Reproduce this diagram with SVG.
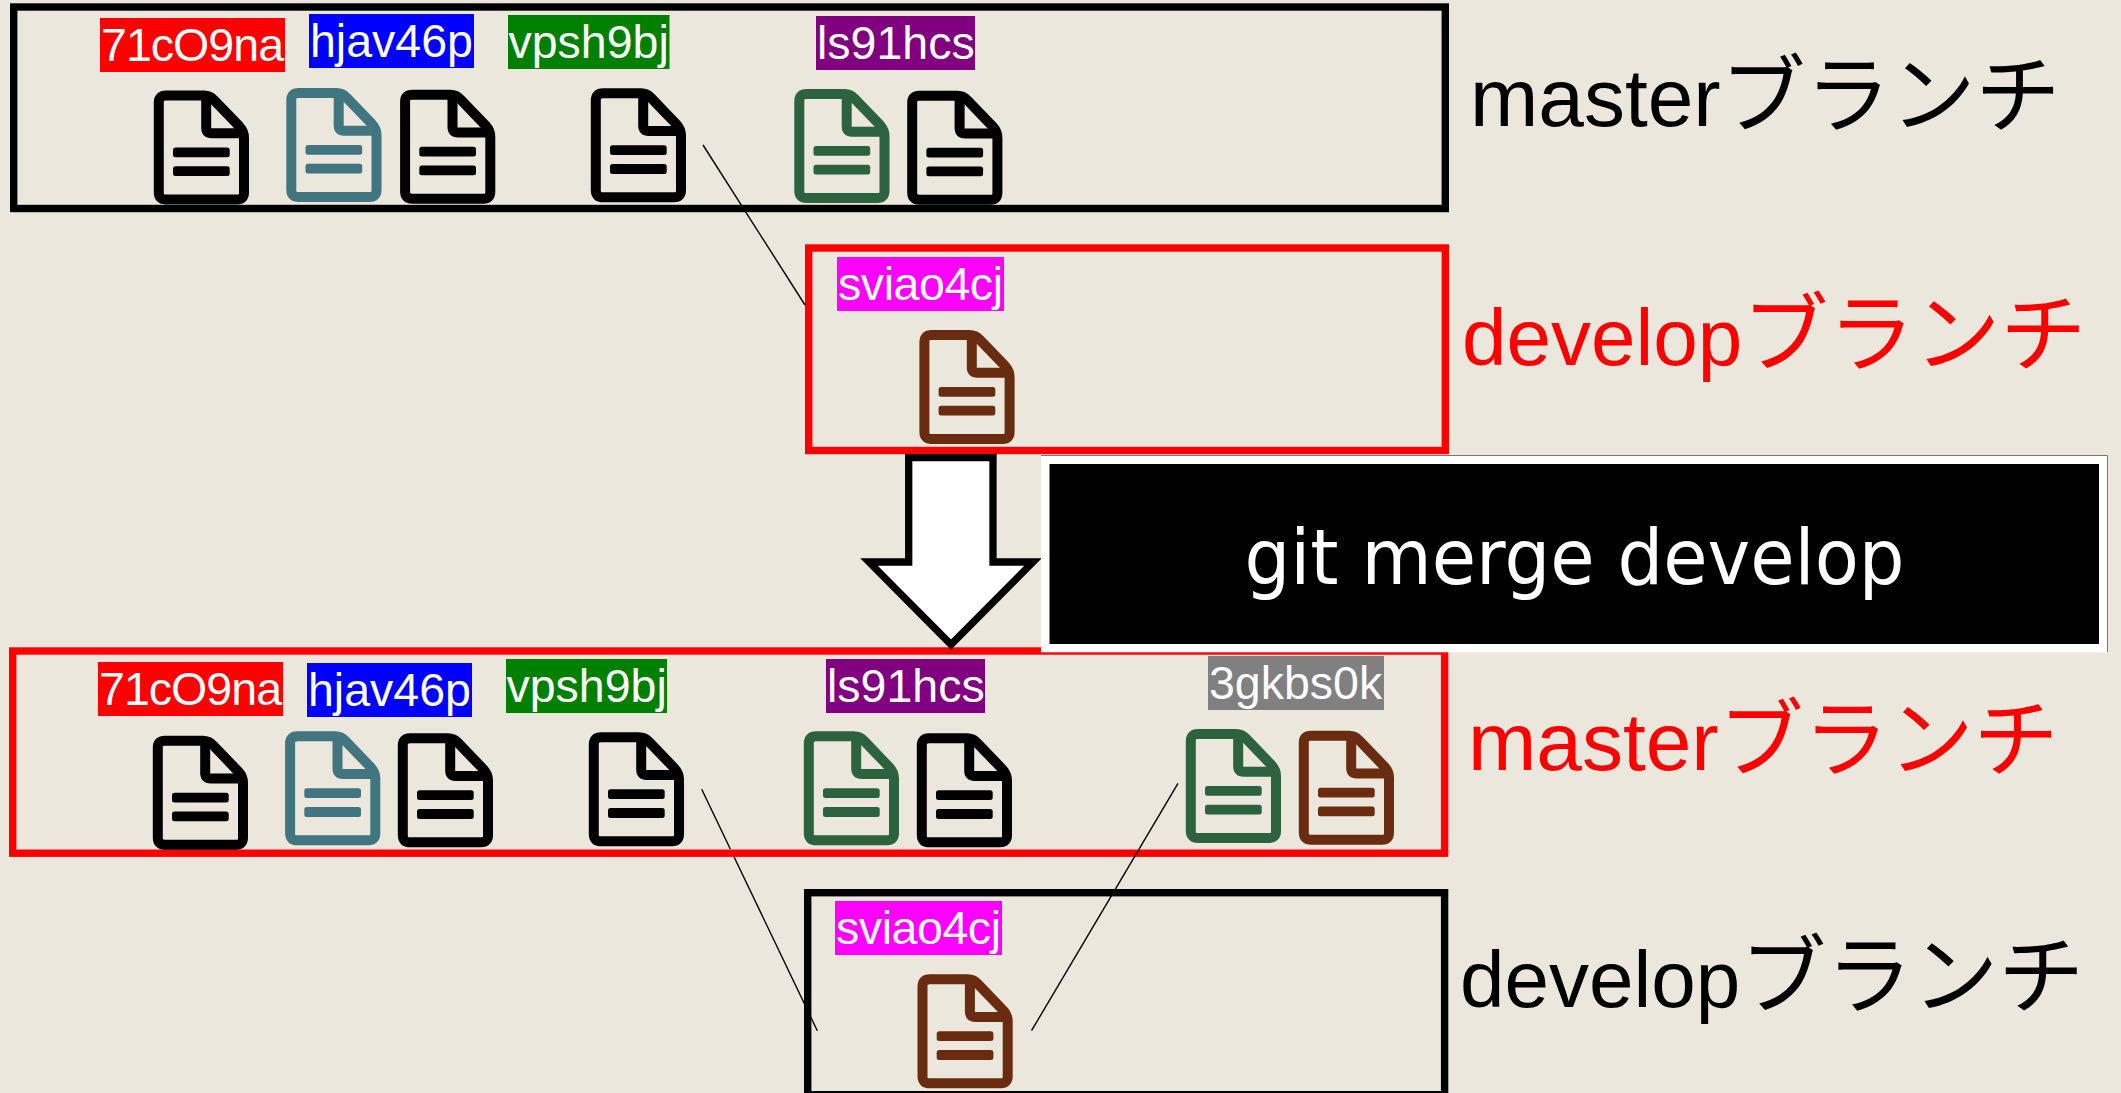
<svg xmlns="http://www.w3.org/2000/svg" width="2121" height="1093" viewBox="0 0 2121 1093">
<style>
.box{fill:none;stroke-width:7.4}
.lbl{font:46.5px "Liberation Sans",Arial,sans-serif;fill:#fff}
.big{font:80px "Liberation Sans","Noto Sans CJK JP",sans-serif}
.m{font-size:82px}
.kana{font-size:86px;font-family:"Noto Sans CJK JP",sans-serif}
.m .kana{font-size:85px}
.cn{stroke:#000;stroke-width:1.4;fill:none}
.k{color:#000}.t{color:#41757f}.g{color:#2d623f}.b{color:#692c10}
.ic{fill:none;stroke:currentColor;stroke-width:10}
.ln{fill:currentColor;stroke:none}
</style>
<defs>
<g id="file">
<path class="ic" d="M12 5H50Q56 5 60 9.5L85.5 36Q90 41 90 47V102Q90 109 83 109H12Q4.8 109 4.8 102V12Q4.8 5 12 5Z"/>
<path class="ic" d="M52.2 5V37.5Q52.2 42.8 57.5 42.8H90"/>
<rect class="ln" x="19" y="57" width="56.7" height="9.8" rx="2.5"/>
<rect class="ln" x="19" y="75.8" width="56.7" height="9.8" rx="2.5"/>
</g>
</defs>
<rect width="2121" height="1093" fill="#ebe7dd"/>
<g id="master-top">
<rect class="box" x="13.7" y="7" width="1431.6" height="201.5" stroke="#000"/>
<text class="big m" x="1470" y="126" fill="#000">master<tspan class="kana">ブランチ</tspan></text>
</g>
<g id="develop-top">
<rect class="box" x="808.7" y="248" width="636.6" height="202.5" stroke="#f00"/>
<text class="big" x="1462" y="365" fill="#f00">develop<tspan class="kana">ブランチ</tspan></text>
</g>
<g id="master-bottom">
<rect class="box" x="12.7" y="651" width="1431.9" height="202.2" stroke="#f00"/>
<text class="big m" x="1468" y="770" fill="#f00">master<tspan class="kana">ブランチ</tspan></text>
</g>
<g id="develop-bottom">
<rect class="box" x="807.7" y="892.7" width="636.9" height="202" stroke="#000"/>
<text class="big" x="1460" y="1006.7" fill="#000">develop<tspan class="kana">ブランチ</tspan></text>
</g>
<g id="connectors">
<path class="cn" d="M703 145L805 305"/>
<path class="cn" d="M701.7 789.3L730.3 849M734.1 857L817.3 1030.7"/>
<path class="cn" d="M1178 783.3L1031.5 1030.7"/>
</g>
<g id="commit-71c09na-top"><rect x="100" y="18" width="185" height="54" fill="#f00"/><text class="lbl" x="101" y="60.7" textLength="183">71cO9na</text><use href="#file" class="k" x="154" y="90.5"/></g>
<g id="commit-hjav46p-top"><rect x="309" y="14" width="165" height="54" fill="#00f"/><text class="lbl" x="310" y="56.7">hjav46p</text><use href="#file" class="t" x="286.5" y="88"/></g>
<use id="file-a-top" href="#file" class="k" x="400.3" y="89.7"/>
<g id="commit-vpsh9bj-top"><rect x="508" y="15" width="161.5" height="54" fill="#008000"/><text class="lbl" x="508.5" y="57.7">vpsh9bj</text><use href="#file" class="k" x="591" y="88.3"/></g>
<g id="commit-ls91hcs-top"><rect x="816" y="16" width="159" height="54" fill="#800080"/><text class="lbl" x="817" y="58.7">ls91hcs</text><use href="#file" class="g" x="794.5" y="89"/></g>
<use id="file-b-top" href="#file" class="k" x="907.4" y="90.7"/>
<g id="commit-sviao4cj-top"><rect x="837" y="257" width="167" height="54" fill="#f0f"/><text class="lbl" x="838" y="299.7" textLength="165">sviao4cj</text><use href="#file" class="b" x="919.6" y="330"/></g>
<g id="commit-71c09na-bottom"><rect x="98" y="662" width="185" height="54" fill="#f00"/><text class="lbl" x="99" y="704.7" textLength="183">71cO9na</text><use href="#file" class="k" x="153" y="735.7"/></g>
<g id="commit-hjav46p-bottom"><rect x="307" y="663" width="165" height="54" fill="#00f"/><text class="lbl" x="308" y="705.7">hjav46p</text><use href="#file" class="t" x="285.3" y="731.3"/></g>
<use id="file-a-bottom" href="#file" class="k" x="398" y="733.3"/>
<g id="commit-vpsh9bj-bottom"><rect x="506" y="659" width="161" height="54" fill="#008000"/><text class="lbl" x="506.5" y="701.7">vpsh9bj</text><use href="#file" class="k" x="589" y="732.3"/></g>
<g id="commit-ls91hcs-bottom"><rect x="826" y="659" width="159" height="54" fill="#800080"/><text class="lbl" x="827" y="701.7">ls91hcs</text><use href="#file" class="g" x="804" y="731.3"/></g>
<use id="file-b-bottom" href="#file" class="k" x="917" y="733.3"/>
<g id="commit-3gkbs0k-bottom"><rect x="1208" y="656" width="176" height="54" fill="#808080"/><text class="lbl" x="1209" y="698.7">3gkbs0k</text><use href="#file" class="g" x="1186" y="729"/></g>
<use id="file-c-bottom" href="#file" class="b" x="1299" y="730.7"/>
<g id="commit-sviao4cj-bottom"><rect x="835" y="901" width="167" height="54" fill="#f0f"/><text class="lbl" x="836" y="943.7" textLength="165">sviao4cj</text><use href="#file" class="b" x="917.7" y="974.3"/></g>
<g id="merge-arrow"><path d="M908.7 457.7H993V562H1033L951 644.5L869 562H908.7Z" fill="#fff" stroke="#000" stroke-width="7.3"/></g>
<g id="command">
<rect x="1041" y="455" width="1066" height="197.3" fill="#fff"/>
<path d="M1041 455.5H2107.5V652" fill="none" stroke="#777" stroke-width="1"/>
<rect x="1049.5" y="464" width="1049.5" height="180" fill="#000"/>
<text x="1574.5" y="584" text-anchor="middle" font-family="DejaVu Sans,sans-serif" font-size="76" fill="#fff" textLength="660" lengthAdjust="spacingAndGlyphs">git merge develop</text>
</g>
</svg>
